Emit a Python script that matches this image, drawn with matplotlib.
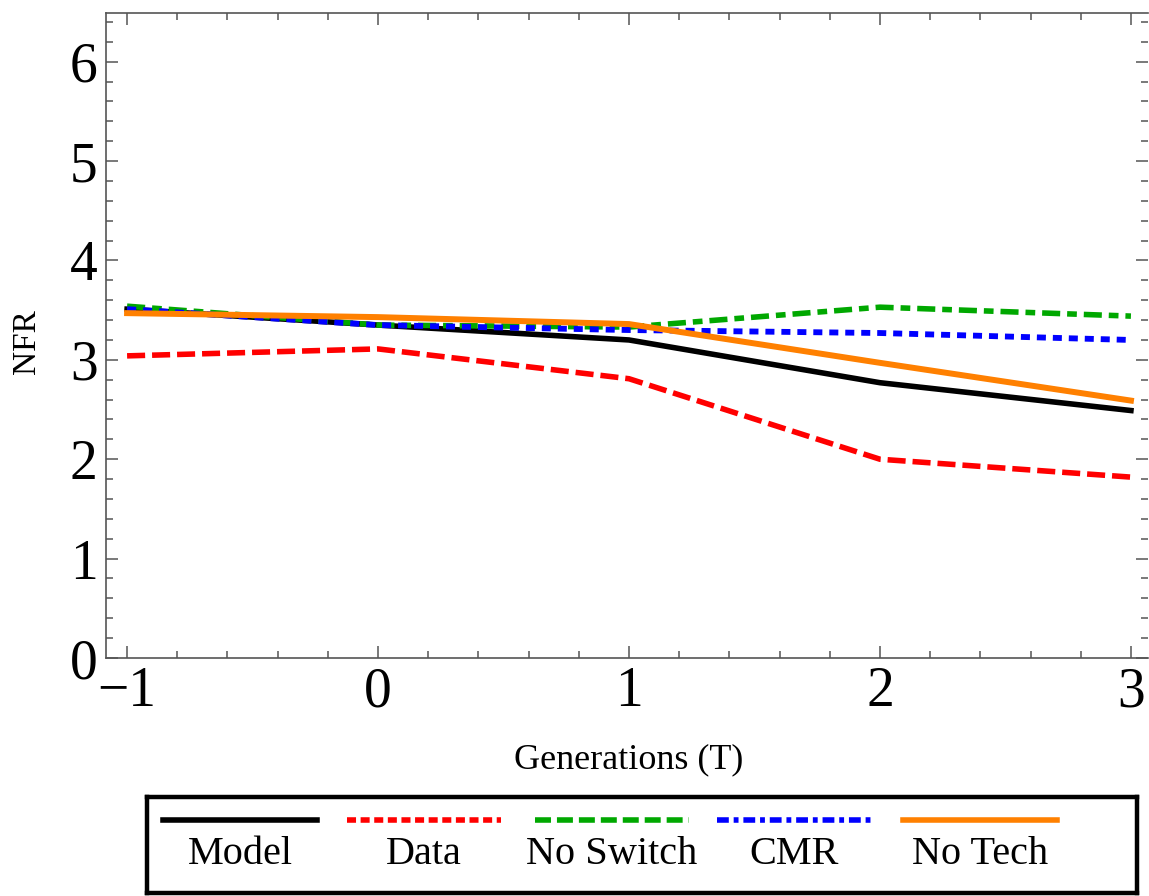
import matplotlib
matplotlib.use("Agg")
import matplotlib.pyplot as plt
from matplotlib.ticker import MultipleLocator

plt.rcParams['font.family'] = ['Liberation Serif', 'DejaVu Serif']
plt.rcParams['lines.scale_dashes'] = False

# generations on the x axis
gens = [-1, 0, 1, 2, 3]
gen_labels = ['\u22121', '0', '1', '2', '3']
nfr_ticks = [0, 1, 2, 3, 4, 5, 6]

# NFR values
model = [3.51, 3.35, 3.20, 2.77, 2.49]
data = [3.04, 3.11, 2.81, 2.00, 1.82]
no_switch = [3.54, 3.35, 3.33, 3.53, 3.44]
cmr = [3.51, 3.35, 3.30, 3.27, 3.20]
no_tech = [3.47, 3.43, 3.36, 2.97, 2.59]

labels = ['Model', 'Data', 'No Switch', 'CMR', 'No Tech']
colors = ['black', '#ff0000', '#00a800', '#0000ff', '#ff8000']
widths = [4.0, 4.0, 4.0, 4.2, 4.3]
plot_styles = ['-', (0, (13, 5)), (0, (13, 5, 7, 5)), (0, (6.5, 5)), '-']
legend_styles = ['-', (0, (6.5, 3.3)), (0, (11.5, 4.3)), (0, (8.5, 3.5, 3.5, 3.5)), '-']

fig = plt.figure(figsize=(11.49, 8.96), dpi=100)
ax = fig.add_axes([106 / 1149, 1 - 658 / 896, 1042 / 1149, 645 / 896])

series = [model, data, no_switch, cmr, no_tech]
for ys, c, lw, ls in zip(series, colors, widths, plot_styles):
    ax.plot(gens, ys, color=c, lw=lw, linestyle=ls)

ax.set_xlim(-1.084, 3.068)
ax.set_ylim(0, 6.49)
ax.set_xticks(gens, gen_labels)
ax.set_yticks(nfr_ticks, [str(t) for t in nfr_ticks])
ax.xaxis.set_minor_locator(MultipleLocator(0.2))
ax.yaxis.set_minor_locator(MultipleLocator(0.2))
ax.tick_params(which='both', direction='in', top=True, right=True, color='#555555', width=1.1)
ax.tick_params(which='major', length=8.5, labelsize=40, pad=6)
ax.tick_params(which='minor', length=5)
for side in ['left', 'bottom', 'top']:
    ax.spines[side].set_color('#555555')
    ax.spines[side].set_linewidth(1.2)
ax.spines['right'].set_visible(False)

fig.text(629 / 1149, 1 - 760 / 896, 'Generations (T)', fontsize=26, ha='center', va='center')
fig.text(27 / 1149, 1 - 342 / 896, 'NFR', fontsize=24, rotation=90, ha='center', va='center')

# legend box drawn below the plot, labels under each swatch
lax = fig.add_axes([147 / 1149, 3 / 896, 990 / 1149, 96 / 896])
lax.set_xlim(147, 1137)
lax.set_ylim(893, 797)
lax.set_xticks([])
lax.set_yticks([])
for sp in lax.spines.values():
    sp.set_linewidth(3.2)
    sp.set_color('black')
centers = [240, 424, 612, 794, 980]
for cx, lab, c, ls in zip(centers, labels, colors, legend_styles):
    lax.plot([cx - 77, cx + 77], [820, 820], color=c, lw=4, linestyle=ls)
    lax.text(cx, 854, lab, fontsize=29, ha='center', va='center')

fig.savefig('out.png', dpi=100)
